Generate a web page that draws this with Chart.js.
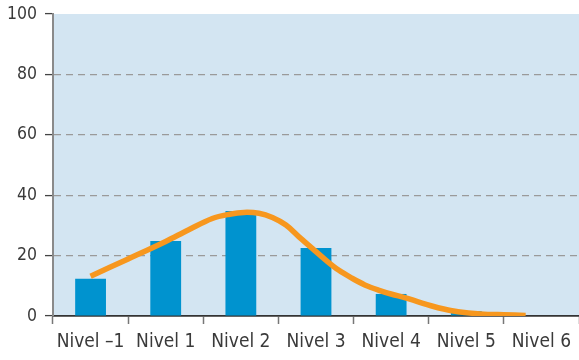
<!DOCTYPE html>
<html>
<head>
<meta charset="utf-8">
<script src="https://cdn.jsdelivr.net/npm/chart.js@4/dist/chart.umd.min.js"></script>
<style>
html,body{margin:0;padding:0;background:#fff;}
canvas{display:block;}
</style>
</head>
<body>
<canvas id="c" width="579" height="360"></canvas>
<script>
const categories = ['Nivel –1','Nivel 1','Nivel 2','Nivel 3','Nivel 4','Nivel 5','Nivel 6'];
const barValues = [12.3, 24.8, 34.8, 22.5, 7.3, 1.6, 0];
const curveX = [0, 0.5, 1.0, 1.3, 1.62, 1.85, 2.04, 2.24, 2.42, 2.6, 2.77, 2.95, 3.13, 3.3, 3.48, 3.65, 3.83, 4.01, 4.18, 4.36, 4.53, 4.7, 4.89, 5.19, 5.5, 5.79];
const curveY = [13.2, 18.9, 24.7, 28.5, 32.3, 33.7, 34.3, 34.0, 32.6, 30.1, 26.3, 22.4, 18.5, 15.2, 12.5, 10.3, 8.6, 7.2, 6.1, 4.7, 3.4, 2.3, 1.4, 0.7, 0.4, 0.2];
const yTicks = [0, 20, 40, 60, 80, 100];

const FONT = "'Liberation Sans Narrow', 'DejaVu Sans Condensed', 'Arial Narrow', sans-serif";

const plotBg = {
  id: 'plotBg',
  beforeDraw(chart) {
    const a = chart.chartArea, ctx = chart.ctx;
    ctx.save();
    ctx.fillStyle = '#D3E5F2';
    ctx.fillRect(a.left, a.top, a.right - a.left, a.bottom - a.top);
    ctx.restore();
  }
};

new Chart(document.getElementById('c'), {
  data: {
    labels: categories,
    datasets: [
      {
        type: 'line',
        data: curveX.map((x, i) => ({x: x, y: curveY[i]})),
        xAxisID: 'x2',
        borderColor: '#F7971E',
        borderWidth: 5.5,
        pointRadius: 0,
        fill: false,
        tension: 0.35,
        order: 0
      },
      {
        type: 'bar',
        data: barValues,
        xAxisID: 'x',
        backgroundColor: '#0093CF',
        borderWidth: 0,
        grouped: false,
        categoryPercentage: 1,
        barPercentage: 0.41,
        order: 1
      }
    ]
  },
  options: {
    responsive: false,
    devicePixelRatio: 1,
    animation: false,
    layout: {padding: {top: 14, right: 0, left: 0, bottom: 0}},
    plugins: {legend: {display: false}, tooltip: {enabled: false}},
    scales: {
      x: {
        type: 'category',
        offset: true,
        grid: {
          offset: true,
          drawOnChartArea: false,
          drawTicks: true,
          tickLength: 8,
          tickColor: '#777',
          tickWidth: 1.5
        },
        border: {color: '#333', width: 1.8},
        ticks: {
          color: '#3a3a3a',
          font: {family: FONT, size: 19},
          padding: 7,
          maxRotation: 0,
          autoSkip: false
        },
        afterFit(s) { s.height = 44; s.paddingLeft = 0; s.paddingRight = 0; }
      },
      x2: {
        type: 'linear',
        display: false,
        min: -0.5,
        max: 6.5
      },
      y: {
        min: 0,
        max: 100,
        afterBuildTicks(s) { s.ticks = yTicks.map(v => ({value: v})); },
        grid: {
          color: ctx => (ctx.tick && (ctx.tick.value === 0 || ctx.tick.value === 100)) ? 'rgba(0,0,0,0)' : '#9a9a9a',
          lineWidth: 1.2,
          tickColor: '#444',
          tickLength: 8,
          tickWidth: 1.3,
          tickBorderDash: [],
          drawTicks: true
        },
        border: {color: '#8a8a8a', width: 2, dash: [7, 5]},
        ticks: {
          color: '#3a3a3a',
          font: {family: FONT, size: 17.5},
          padding: 8
        },
        afterFit(s) { s.width = 53; s.paddingTop = 0; s.paddingBottom = 0; }
      }
    }
  },
  plugins: [plotBg]
});
</script>
</body>
</html>
